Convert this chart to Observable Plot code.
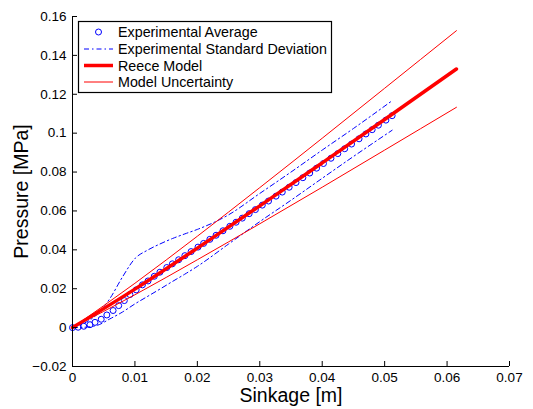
<!DOCTYPE html>
<html><head><meta charset="utf-8">
<script src="https://cdn.jsdelivr.net/npm/d3@7"></script>
<script src="https://cdn.jsdelivr.net/npm/@observablehq/plot@0.6"></script>
<style>
html,body{margin:0;padding:0;background:#fff;}
#wrap{position:relative;width:533px;height:409px;font-family:"Liberation Sans",Arial,Helvetica,sans-serif;}
#legend{position:absolute;left:78px;top:21px;}
</style></head><body><div id="wrap"></div>
<script>
const sinkageAvg = [0, 0.0009, 0.0018, 0.0028, 0.0036, 0.0046, 0.0055, 0.0065, 0.0074, 0.0083, 0.0092,
  0.0102, 0.0112, 0.0121, 0.0131, 0.0140, 0.0151, 0.0160, 0.0170, 0.0180, 0.0190, 0.0201,
  0.0210, 0.0220, 0.0230, 0.0241, 0.0252, 0.0262, 0.0272, 0.0283, 0.0293, 0.0304,
  0.0314, 0.0326, 0.0336, 0.0347, 0.0358, 0.0369, 0.0380, 0.0391, 0.0402,
  0.0414, 0.0425, 0.0436, 0.0447, 0.0459, 0.0470, 0.0480, 0.0490, 0.0502, 0.0512];
const pressureAvg = [0, 0.0002, 0.0007, 0.0015, 0.0027, 0.0043, 0.0065, 0.0088, 0.0113, 0.0139, 0.0170,
  0.0194, 0.0220, 0.0240, 0.0264, 0.0285, 0.0309, 0.0328, 0.0349, 0.0370, 0.0391, 0.0414,
  0.0433, 0.0454, 0.0475, 0.0498, 0.0521, 0.0542, 0.0563, 0.0586, 0.0607, 0.0630,
  0.0651, 0.0676, 0.0697, 0.0722, 0.0746, 0.0771, 0.0795, 0.0820, 0.0844,
  0.0871, 0.0895, 0.0920, 0.0944, 0.0971, 0.0996, 0.1018, 0.1041, 0.1067, 0.1090];

const sinkageStd = [0, 0.002, 0.004, 0.006, 0.008, 0.010, 0.012, 0.014, 0.016, 0.018, 0.020, 0.025, 0.030, 0.035, 0.040, 0.045, 0.0512];
const pressureStdUpper = [0, 0.0025, 0.0070, 0.0150, 0.0260, 0.0355, 0.0398, 0.0430, 0.0458, 0.0482, 0.0505, 0.0580, 0.0690, 0.0800, 0.0913, 0.1024, 0.1167];
const pressureStdLower = [0, 0.0002, 0.0012, 0.0045, 0.0080, 0.0122, 0.0160, 0.0198, 0.0237, 0.0275, 0.0315, 0.0430, 0.0545, 0.0655, 0.0768, 0.0880, 0.1015];

const sinkageModel = [0, 0.01, 0.02, 0.03, 0.04, 0.05, 0.0615];
const pressureReece = [0, 0.0198, 0.0409, 0.0626, 0.0847, 0.1070, 0.1330];
const pressureModelUpper = [0, 0.0228, 0.0470, 0.0720, 0.0974, 0.1231, 0.1527];
const pressureModelLower = [0, 0.0169, 0.0349, 0.0534, 0.0722, 0.0913, 0.1133];

const xTicks = [0, 0.01, 0.02, 0.03, 0.04, 0.05, 0.06, 0.07];
const xTickLabels = ["0", "0.01", "0.02", "0.03", "0.04", "0.05", "0.06", "0.07"];
const yTicks = [-0.02, 0, 0.02, 0.04, 0.06, 0.08, 0.1, 0.12, 0.14, 0.16];
const yTickLabels = ["\u22120.02", "0", "0.02", "0.04", "0.06", "0.08", "0.1", "0.12", "0.14", "0.16"];
const xLabel = "Sinkage [m]";
const yLabel = "Pressure [MPa]";
const legendLabels = ["Experimental Average", "Experimental Standard Deviation", "Reece Model", "Model Uncertainty"];

const zip = (xs, ys) => xs.map((x, i) => ({x, y: ys[i]}));
const avg = zip(sinkageAvg, pressureAvg);
const stdU = zip(sinkageStd, pressureStdUpper);
const stdL = zip(sinkageStd, pressureStdLower);
const reece = zip(sinkageModel, pressureReece);
const modU = zip(sinkageModel, pressureModelUpper);
const modL = zip(sinkageModel, pressureModelLower);

const BLUE = "#0000ff", RED = "#ff0000";
const dashDot = "5,3,1.5,3";
const font = '"Liberation Sans", Arial, Helvetica, sans-serif';
const yMin = -0.02, yMax = 0.16, xMin = 0, xMax = 0.07;
const tickLenY = (yMax - yMin) * 5 / 350; // 5px inward tick expressed in y units

const chart = Plot.plot({
  width: 533, height: 409,
  marginLeft: 72, marginRight: 24, marginTop: 16, marginBottom: 43,
  style: {fontFamily: font, fontSize: "13.5px", color: "#000", background: "#fff", overflow: "visible"},
  x: {domain: [xMin, xMax]},
  y: {domain: [yMin, yMax]},
  marks: [
    Plot.dot(avg, {x: "x", y: "y", r: 3, stroke: BLUE, strokeWidth: 1, fill: "none"}),
    Plot.line(stdU, {x: "x", y: "y", stroke: BLUE, strokeWidth: 1, strokeDasharray: dashDot, curve: "monotone-x"}),
    Plot.line(stdL, {x: "x", y: "y", stroke: BLUE, strokeWidth: 1, strokeDasharray: dashDot, curve: "monotone-x"}),
    Plot.line(reece, {x: "x", y: "y", stroke: RED, strokeWidth: 3.5, curve: "monotone-x"}),
    Plot.line(modU, {x: "x", y: "y", stroke: RED, strokeWidth: 1, curve: "monotone-x"}),
    Plot.line(modL, {x: "x", y: "y", stroke: RED, strokeWidth: 1, curve: "monotone-x"}),
    Plot.ruleY([yMin], {x1: xMin, x2: xMax, stroke: "#000", strokeWidth: 1}),
    Plot.ruleX([xMin], {y1: yMin, y2: yMax, stroke: "#000", strokeWidth: 1}),
    Plot.ruleX(xTicks, {x: d => d, y1: yMin, y2: yMin + tickLenY, stroke: "#000", strokeWidth: 1}),
    Plot.ruleY(yTicks, {y: d => d, x1: xMin, x2: xMax, insetRight: 432, stroke: "#000", strokeWidth: 1}),
    Plot.axisX({ticks: xTicks, tickSize: 0, tickPadding: 6, tickFormat: d => xTickLabels[xTicks.indexOf(d)], label: null}),
    Plot.axisY({ticks: yTicks, tickSize: 0, tickPadding: 6, tickFormat: d => yTickLabels[yTicks.indexOf(d)], label: null}),
    Plot.text([xLabel], {frameAnchor: "bottom", dy: 29, lineAnchor: "middle", textAnchor: "middle", fontSize: 19.5, fill: "#000"}),
    Plot.text([yLabel], {frameAnchor: "left", dx: -51, rotate: -90, lineAnchor: "middle", textAnchor: "middle", fontSize: 19.5, fill: "#000"})
  ]
});

const wrap = document.getElementById("wrap");
wrap.appendChild(chart);

// Legend
const lg = d3.create("svg").attr("id", "legend").attr("width", 255).attr("height", 73)
  .style("font-family", font).style("overflow", "visible");
lg.append("rect").attr("x", 0.5).attr("y", 0.5).attr("width", 253).attr("height", 71)
  .attr("fill", "#fff").attr("stroke", "#000").attr("stroke-width", 1.2);
const rowY = [11, 28, 44.5, 61];
legendLabels.forEach((t, i) => {
  const y = rowY[i];
  if (i === 0) {
    lg.append("circle").attr("cx", 20.5).attr("cy", y).attr("r", 3).attr("fill", "none").attr("stroke", BLUE).attr("stroke-width", 1);
  } else {
    const ln = lg.append("line").attr("x1", 6).attr("x2", 35).attr("y1", y).attr("y2", y);
    if (i === 1) ln.attr("stroke", BLUE).attr("stroke-width", 1).attr("stroke-dasharray", dashDot);
    if (i === 2) ln.attr("stroke", RED).attr("stroke-width", 3.5);
    if (i === 3) ln.attr("stroke", RED).attr("stroke-width", 1);
  }
  lg.append("text").attr("x", 40).attr("y", y).attr("dy", "0.35em").attr("font-size", 14.3).attr("fill", "#000").text(t);
});
wrap.appendChild(lg.node());
</script></body></html>
